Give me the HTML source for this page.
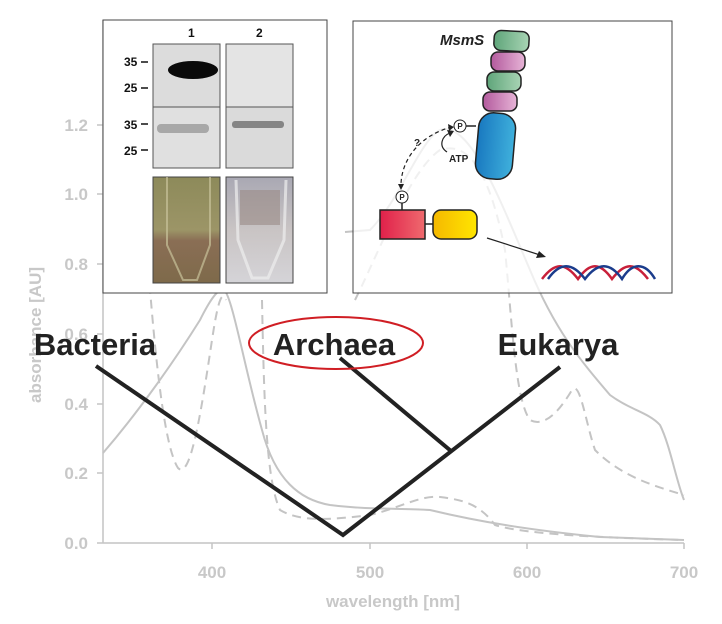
<!DOCTYPE html>
<html><head><meta charset="utf-8"><style>
html,body{margin:0;padding:0;background:#fff;width:722px;height:624px;overflow:hidden}
svg{display:block;font-family:"Liberation Sans",sans-serif}
</style></head><body>
<svg width="722" height="624" viewBox="0 0 722 624" xmlns="http://www.w3.org/2000/svg">
<defs>
<linearGradient id="gG" x1="0" x2="1"><stop offset="0" stop-color="#5fa57a"/><stop offset="1" stop-color="#a8d4b4"/></linearGradient>
<linearGradient id="gP" x1="0" x2="1"><stop offset="0" stop-color="#b35a9d"/><stop offset="1" stop-color="#e7b4d7"/></linearGradient>
<linearGradient id="gB" x1="0" x2="1"><stop offset="0" stop-color="#1979c0"/><stop offset="1" stop-color="#3fb0dc"/></linearGradient>
<linearGradient id="gR" x1="0" x2="1"><stop offset="0" stop-color="#e0204a"/><stop offset="1" stop-color="#ef6a6e"/></linearGradient>
<linearGradient id="gY" x1="0" x2="1"><stop offset="0" stop-color="#f5b800"/><stop offset="1" stop-color="#ffe600"/></linearGradient>
<linearGradient id="tube1" x1="0" y1="0" x2="0" y2="1"><stop offset="0" stop-color="#8d8a5a"/><stop offset="0.5" stop-color="#9c9567"/><stop offset="0.6" stop-color="#8a6e55"/><stop offset="1" stop-color="#7e6a4a"/></linearGradient>
<linearGradient id="tube2" x1="0" y1="0" x2="0" y2="1"><stop offset="0" stop-color="#a9a8b3"/><stop offset="0.5" stop-color="#c9c4c4"/><stop offset="1" stop-color="#d5d4d8"/></linearGradient>
</defs>

<!-- axes -->
<g stroke="#c4c4c4" stroke-width="1.5" fill="none">
<line x1="103" y1="20" x2="103" y2="543"/>
<line x1="103" y1="543" x2="684" y2="543"/>
<line x1="97" y1="125" x2="103" y2="125"/><line x1="97" y1="194" x2="103" y2="194"/>
<line x1="97" y1="264" x2="103" y2="264"/><line x1="97" y1="334" x2="103" y2="334"/>
<line x1="97" y1="404" x2="103" y2="404"/><line x1="97" y1="473" x2="103" y2="473"/>
<line x1="97" y1="543" x2="103" y2="543"/>
<line x1="212" y1="543" x2="212" y2="549"/><line x1="370" y1="543" x2="370" y2="549"/>
<line x1="527" y1="543" x2="527" y2="549"/><line x1="684" y1="543" x2="684" y2="549"/>
</g>
<g fill="#c8c8c8" font-weight="bold" font-size="17" text-anchor="end">
<text x="88" y="131">1.2</text><text x="88" y="200">1.0</text><text x="88" y="270">0.8</text>
<text x="88" y="340">0.6</text><text x="88" y="410">0.4</text><text x="88" y="479">0.2</text><text x="88" y="549">0.0</text>
</g>
<g fill="#c8c8c8" font-weight="bold" font-size="17" text-anchor="middle">
<text x="212" y="578">400</text><text x="370" y="578">500</text><text x="527" y="578">600</text><text x="684" y="578">700</text>
<text x="393" y="607">wavelength [nm]</text>
<text transform="translate(41,335) rotate(-90)">absorbance [AU]</text>
</g>

<!-- curves -->
<g stroke="#c4c4c4" stroke-width="2" fill="none">
<path d="M103,453 C140,410 175,360 200,320 C210,300 218,288 224,290 C232,295 245,370 262,430 C275,480 300,500 330,505 C370,510 400,508 430,510 C480,522 530,530 600,537 L684,540"/>
<path d="M345,232 L370,230 C400,200 420,140 440,130 C470,120 500,200 530,270 C555,330 580,360 610,395 C630,410 648,412 660,425 C670,445 676,480 684,500"/>
</g>
<g stroke="#c4c4c4" stroke-width="2" fill="none" stroke-dasharray="9,6">
<path d="M140,150 C150,300 160,440 178,468 C190,480 200,420 212,340 C218,300 222,290 226,300"/>
<path d="M262,300 C264,400 266,480 280,510 C300,522 330,520 370,515 C400,508 420,495 440,497 C465,500 480,505 495,525 C520,533 580,537 684,540"/>
<path d="M355,300 C380,250 410,170 440,150 C470,140 490,175 505,250 C512,320 515,400 530,420 C545,428 560,410 572,390 C580,380 585,420 595,450 C620,475 650,485 684,495"/>
</g>

<!-- left inset -->
<rect x="103" y="20" width="224" height="273" fill="#fff" stroke="#444" stroke-width="1"/>
<g font-weight="bold" font-size="12" fill="#111">
<text x="188" y="37">1</text><text x="256" y="37">2</text>
<text x="124" y="66">35</text><text x="124" y="92">25</text>
<text x="124" y="129">35</text><text x="124" y="155">25</text>
</g>
<g stroke="#111" stroke-width="1.5">
<line x1="141" y1="62" x2="148" y2="62"/><line x1="141" y1="88" x2="148" y2="88"/>
<line x1="141" y1="124" x2="148" y2="124"/><line x1="141" y1="150" x2="148" y2="150"/>
</g>
<rect x="153" y="44" width="67" height="63" fill="#dcdcdc" stroke="#555"/>
<rect x="226" y="44" width="67" height="63" fill="#e4e4e4" stroke="#555"/>
<rect x="153" y="107" width="67" height="61" fill="#e0e0e0" stroke="#555"/>
<rect x="226" y="107" width="67" height="61" fill="#dadada" stroke="#555"/>
<ellipse cx="193" cy="70" rx="25" ry="9" fill="#0a0a0a"/>
<rect x="157" y="124" width="52" height="9" rx="4" fill="#9a9a9a" opacity="0.8"/>
<rect x="232" y="121" width="52" height="7" rx="3" fill="#6f6f6f" opacity="0.8"/>
<rect x="153" y="177" width="67" height="106" fill="url(#tube1)" stroke="#444"/>
<rect x="226" y="177" width="67" height="106" fill="url(#tube2)" stroke="#444"/>
<path d="M167,177 L167,245 L183,280 L197,280 L210,245 L210,177" fill="none" stroke="#c8c29a" stroke-width="2" opacity="0.7"/>
<rect x="240" y="190" width="40" height="35" fill="#9a8a86" opacity="0.6"/>
<path d="M236,180 L238,240 L252,278 L268,278 L284,240 L286,180" fill="none" stroke="#eee" stroke-width="3" opacity="0.7"/>

<!-- right inset -->
<rect x="353" y="21" width="319" height="272" fill="#fff" fill-opacity="0.75" stroke="#444" stroke-width="1"/>
<text x="440" y="45" font-weight="bold" font-style="italic" font-size="15" fill="#222">MsmS</text>
<g stroke="#222" stroke-width="1.5">
<rect x="494" y="31" width="35" height="20" rx="7" fill="url(#gG)" transform="rotate(3 511 41)"/>
<rect x="491" y="52" width="34" height="19" rx="7" fill="url(#gP)"/>
<rect x="487" y="72" width="34" height="19" rx="7" fill="url(#gG)"/>
<rect x="483" y="92" width="34" height="19" rx="7" fill="url(#gP)"/>
<rect x="477" y="113" width="37" height="66" rx="15" fill="url(#gB)" transform="rotate(5 495 146)"/>
<rect x="380" y="210" width="45" height="29" fill="url(#gR)"/>
<rect x="433" y="210" width="44" height="29" rx="8" fill="url(#gY)"/>
<line x1="425" y1="224" x2="433" y2="224"/>
<line x1="402" y1="203" x2="402" y2="210"/>
<line x1="466" y1="126" x2="476" y2="126"/>
</g>
<circle cx="460" cy="126" r="6" fill="#fff" stroke="#222"/>
<circle cx="402" cy="197" r="6" fill="#fff" stroke="#222"/>
<g font-size="8" font-weight="bold" text-anchor="middle" fill="#222">
<text x="460" y="129">P</text><text x="402" y="200">P</text>
</g>
<text x="449" y="162" font-size="10" font-weight="bold" fill="#222">ATP</text>
<text x="414" y="146" font-size="10" font-weight="bold" fill="#222">?</text>
<path d="M452,127 C420,135 400,160 401,188" fill="none" stroke="#222" stroke-width="1.2" stroke-dasharray="4,3"/>
<path d="M398,184 L401,190 L404,184 Z M448,124 L454,127 L449,131 Z" fill="#222"/>
<path d="M447,152 C438,146 442,136 450,133" fill="none" stroke="#222" stroke-width="1.2"/>
<path d="M447,130 L454,131 L450,137 Z" fill="#222"/>
<line x1="487" y1="238" x2="540" y2="255" stroke="#222" stroke-width="1.2"/>
<path d="M546,257 L536,258 L539,251 Z" fill="#222"/>
<g fill="none" stroke-width="2.5">
<path d="M542,279 C555,262 565,262 578,279 C590,262 600,262 612,279 C625,262 635,262 648,279" stroke="#c8203a"/>
<path d="M548,279 C560,262 572,262 585,279 C598,262 610,262 622,279 C632,262 645,262 655,279" stroke="#1b3c8c"/>
</g>

<!-- tree -->
<g stroke="#222" stroke-width="4" fill="none" stroke-linejoin="miter">
<path d="M96,366 L343,535 L560,367"/>
<line x1="340" y1="358" x2="451" y2="451"/>
</g>
<ellipse cx="336" cy="343" rx="87" ry="26" fill="none" stroke="#d01e24" stroke-width="2"/>
<g font-weight="bold" font-size="31" fill="#222" text-anchor="middle">
<text x="95" y="355">Bacteria</text>
<text x="334" y="355">Archaea</text>
<text x="558" y="355">Eukarya</text>
</g>
</svg>
</body></html>
